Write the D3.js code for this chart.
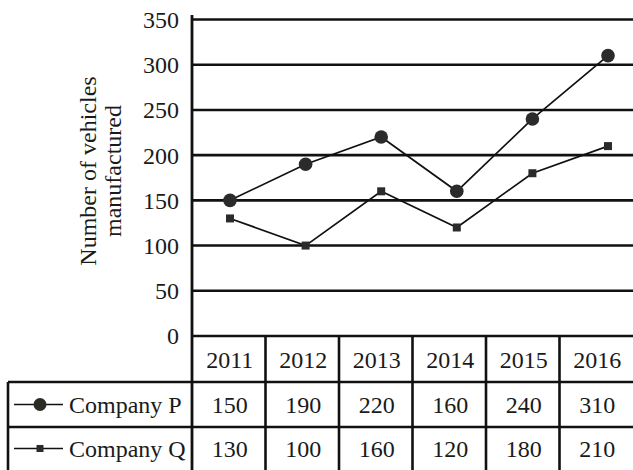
<!DOCTYPE html>
<html>
<head>
<meta charset="utf-8">
<script src="https://cdn.jsdelivr.net/npm/d3@7"></script>
<style>
  html, body { margin: 0; padding: 0; background: #fff; }
  svg { display: block; }
  text { font-family: "Liberation Serif", "Times New Roman", serif; fill: #1a1a1a; }
</style>
</head>
<body>
<svg id="chart" width="633" height="470"></svg>
<script>
// Vehicles manufactured per year by two companies
const years = ["2011", "2012", "2013", "2014", "2015", "2016"];
const companyP = [150, 190, 220, 160, 240, 310];
const companyQ = [130, 100, 160, 120, 180, 210];
const seriesNames = ["Company P", "Company Q"];
const yTicks = [0, 50, 100, 150, 200, 250, 300, 350];
const yTitle = ["Number of vehicles", "manufactured"];

const W = 633, H = 470;
const plotLeft = 192, plotRight = 633;
const svg = d3.select("#chart");

const y = d3.scaleLinear().domain([0, 350]).range([336, 19.5]);
// table columns under the plot
const col = d3.scaleBand().domain(years).range([plotLeft, plotRight]).padding(0);
// marker positions along the years
const x = d3.scalePoint().domain(years).range([230, 608]);

const rowHeader = [336, 382];
const rowP = [382, 427];
const rowQ = [427, 472];
const tableLeft = 8;

const ink = "#111";

// horizontal grid lines
svg.append("g").selectAll("line").data(yTicks).join("line")
  .attr("x1", plotLeft).attr("x2", plotRight)
  .attr("y1", d => y(d)).attr("y2", d => y(d))
  .attr("stroke", ink).attr("stroke-width", 2.6);

// y axis labels
const yAxis = d3.axisLeft(y).tickValues(yTicks).tickSize(0).tickPadding(13);
const ga = svg.append("g").attr("transform", `translate(${plotLeft},0)`).call(yAxis);
ga.select(".domain").remove();
ga.selectAll("text")
  .style("font-family", '"Liberation Serif", serif')
  .attr("font-size", 24).attr("fill", "#1a1a1a").attr("dy", "0.33em");

// vertical axis line, running down through the table
svg.append("line")
  .attr("x1", plotLeft).attr("x2", plotLeft)
  .attr("y1", 15).attr("y2", H)
  .attr("stroke", ink).attr("stroke-width", 2.8);

// y axis title (two rotated lines)
svg.append("g").selectAll("text").data(yTitle).join("text")
  .attr("transform", (d, i) => `translate(${88 + i * 25},171) rotate(-90)`)
  .attr("text-anchor", "middle").attr("dy", "0.35em")
  .attr("font-size", 24)
  .text(d => d);

// table grid
const tg = svg.append("g").attr("stroke", ink).attr("stroke-width", 2.6);
const colEdges = years.map(d => col(d)).slice(1);
tg.selectAll("line.col").data(colEdges).join("line").attr("class", "col")
  .attr("x1", d => d).attr("x2", d => d)
  .attr("y1", rowHeader[0]).attr("y2", H);
tg.selectAll("line.row").data([rowP[0], rowQ[0]]).join("line").attr("class", "row")
  .attr("x1", tableLeft).attr("x2", plotRight)
  .attr("y1", d => d).attr("y2", d => d);
tg.append("line")
  .attr("x1", tableLeft).attr("x2", tableLeft)
  .attr("y1", rowP[0]).attr("y2", H);

// header years
svg.append("g").selectAll("text").data(years).join("text")
  .attr("x", d => col(d) + col.bandwidth() / 2 + 1)
  .attr("y", (rowHeader[0] + rowHeader[1]) / 2)
  .attr("dy", "0.36em").attr("text-anchor", "middle").attr("font-size", 24)
  .text(d => d);

// value rows
[[companyP, rowP], [companyQ, rowQ]].forEach(([vals, row]) => {
  svg.append("g").selectAll("text").data(vals).join("text")
    .attr("x", (d, i) => col(years[i]) + col.bandwidth() / 2 + 1)
    .attr("y", (row[0] + row[1]) / 2 - (row === rowQ ? 1 : 0))
    .attr("dy", "0.36em").attr("text-anchor", "middle").attr("font-size", 24)
    .text(d => d);
});

// legend cells
svg.append("g").selectAll("text").data(seriesNames).join("text")
  .attr("x", 69)
  .attr("y", (d, i) => i === 0 ? (rowP[0] + rowP[1]) / 2 : (rowQ[0] + rowQ[1]) / 2 - 1)
  .attr("dy", "0.36em").attr("font-size", 24)
  .text(d => d);

const legY = [(rowP[0] + rowP[1]) / 2, (rowQ[0] + rowQ[1]) / 2 - 1];
legY.forEach(ly => {
  svg.append("line").attr("x1", 14).attr("x2", 63).attr("y1", ly).attr("y2", ly)
    .attr("stroke", ink).attr("stroke-width", 1.6);
});
svg.append("circle").attr("cx", 40).attr("cy", legY[0]).attr("r", 6.5).attr("fill", "#2b2b26");
svg.append("rect").attr("x", 36.5).attr("y", legY[1] - 3.5).attr("width", 7).attr("height", 7).attr("fill", "#2b2b26");

// series lines and markers
const line = d3.line().x((d, i) => x(years[i])).y(d => y(d));
svg.append("path").datum(companyP).attr("d", line)
  .attr("fill", "none").attr("stroke", ink).attr("stroke-width", 1.7);
svg.append("path").datum(companyQ).attr("d", line)
  .attr("fill", "none").attr("stroke", ink).attr("stroke-width", 1.7);

svg.append("g").selectAll("circle").data(companyP).join("circle")
  .attr("cx", (d, i) => x(years[i])).attr("cy", d => y(d))
  .attr("r", 6.8).attr("fill", "#2b2b2b");
svg.append("g").selectAll("rect").data(companyQ).join("rect")
  .attr("x", (d, i) => x(years[i]) - 4).attr("y", d => y(d) - 4)
  .attr("width", 8).attr("height", 8).attr("fill", "#2b2b2b");
</script>
</body>
</html>
